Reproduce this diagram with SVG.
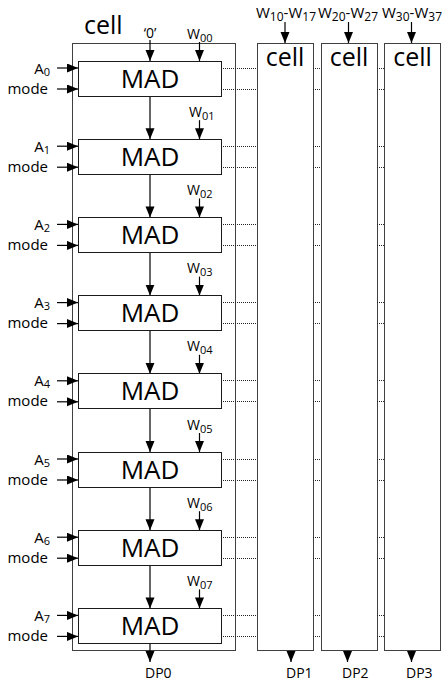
<svg xmlns="http://www.w3.org/2000/svg" width="442" height="683" viewBox="0 0 442 683">
<style>
text{font-family:"Open Sans","Liberation Sans",sans-serif;fill:#000}
.cell{fill:#fff;stroke:#404040;stroke-width:1}
.mad{fill:#fff;stroke:#1a1a1a;stroke-width:1}
.big{font-size:25px}
.mt{font-size:26px}
.lbl{font-size:15px}
.sm{font-size:14px}
.tw{font-size:15px}
.sub{font-size:11px}
.sub2{font-size:12px}
.arr{stroke:#000;stroke-width:1.2;fill:none;marker-end:url(#ah)}
.dot{stroke:#222;stroke-width:1;stroke-dasharray:1 1;fill:none}
</style>
<defs>
<marker id="ah" markerUnits="userSpaceOnUse" markerWidth="11" markerHeight="10" refX="11" refY="4.5" orient="auto">
<path d="M0,0 L11,4.5 L0,9 z" fill="#000"/>
</marker>
</defs>

<g id="cell0">
<rect class="cell" x="72.5" y="43.5" width="163" height="607"/>
<text class="big" x="84" y="34">cell</text>
</g>
<g id="cell1">
<rect class="cell" x="257.5" y="43.5" width="56" height="607"/>
<text class="big" x="285" y="66" text-anchor="middle">cell</text>
</g>
<g id="cell2">
<rect class="cell" x="321.5" y="43.5" width="56" height="607"/>
<text class="big" x="349" y="66" text-anchor="middle">cell</text>
</g>
<g id="cell3">
<rect class="cell" x="384.5" y="43.5" width="56" height="607"/>
<text class="big" x="412.5" y="66" text-anchor="middle">cell</text>
</g>

<g id="connectors">
<line class="arr" x1="150" y1="40" x2="150" y2="61"/>
<line class="arr" x1="199.5" y1="42" x2="199.5" y2="61"/>
<line class="arr" x1="285" y1="22" x2="285" y2="43"/>
<line class="arr" x1="348.5" y1="22" x2="348.5" y2="43"/>
<line class="arr" x1="411.5" y1="22" x2="411.5" y2="43"/>
<line class="arr" x1="150" y1="96" x2="150" y2="139.2"/>
<line class="arr" x1="150" y1="174.2" x2="150" y2="217.4"/>
<line class="arr" x1="150" y1="252.4" x2="150" y2="295.6"/>
<line class="arr" x1="150" y1="330.6" x2="150" y2="373.8"/>
<line class="arr" x1="150" y1="408.8" x2="150" y2="452"/>
<line class="arr" x1="150" y1="487" x2="150" y2="530.2"/>
<line class="arr" x1="150" y1="565.2" x2="150" y2="608.4"/>
<line class="arr" x1="199.5" y1="120.2" x2="199.5" y2="139.2"/>
<line class="arr" x1="199.5" y1="198.4" x2="199.5" y2="217.4"/>
<line class="arr" x1="199.5" y1="276.6" x2="199.5" y2="295.6"/>
<line class="arr" x1="199.5" y1="354.8" x2="199.5" y2="373.8"/>
<line class="arr" x1="199.5" y1="433" x2="199.5" y2="452"/>
<line class="arr" x1="199.5" y1="511.2" x2="199.5" y2="530.2"/>
<line class="arr" x1="199.5" y1="589.4" x2="199.5" y2="608.4"/>
<line class="arr" x1="57" y1="68" x2="78" y2="68"/>
<line class="arr" x1="57" y1="89" x2="78" y2="89"/>
<line class="arr" x1="57" y1="146.2" x2="78" y2="146.2"/>
<line class="arr" x1="57" y1="167.2" x2="78" y2="167.2"/>
<line class="arr" x1="57" y1="224.4" x2="78" y2="224.4"/>
<line class="arr" x1="57" y1="245.4" x2="78" y2="245.4"/>
<line class="arr" x1="57" y1="302.6" x2="78" y2="302.6"/>
<line class="arr" x1="57" y1="323.6" x2="78" y2="323.6"/>
<line class="arr" x1="57" y1="380.8" x2="78" y2="380.8"/>
<line class="arr" x1="57" y1="401.8" x2="78" y2="401.8"/>
<line class="arr" x1="57" y1="459" x2="78" y2="459"/>
<line class="arr" x1="57" y1="480" x2="78" y2="480"/>
<line class="arr" x1="57" y1="537.2" x2="78" y2="537.2"/>
<line class="arr" x1="57" y1="558.2" x2="78" y2="558.2"/>
<line class="arr" x1="57" y1="615.4" x2="78" y2="615.4"/>
<line class="arr" x1="57" y1="636.4" x2="78" y2="636.4"/>
<line class="arr" x1="150" y1="643.4" x2="150" y2="662"/>
<line class="arr" x1="291" y1="651" x2="291" y2="662"/>
<line class="arr" x1="347.5" y1="651" x2="347.5" y2="662"/>
<line class="arr" x1="411.5" y1="651" x2="411.5" y2="662"/>
<path class="dot" d="M221,68.5H257M313,68.5H321M377,68.5H384M221,89.5H257M313,89.5H321M377,89.5H384
M221,146.5H257M313,146.5H321M377,146.5H384M221,167.5H257M313,167.5H321M377,167.5H384
M221,224.5H257M313,224.5H321M377,224.5H384M221,245.5H257M313,245.5H321M377,245.5H384
M221,302.5H257M313,302.5H321M377,302.5H384M221,323.5H257M313,323.5H321M377,323.5H384
M221,380.5H257M313,380.5H321M377,380.5H384M221,401.5H257M313,401.5H321M377,401.5H384
M221,459.5H257M313,459.5H321M377,459.5H384M221,480.5H257M313,480.5H321M377,480.5H384
M221,537.5H257M313,537.5H321M377,537.5H384M221,558.5H257M313,558.5H321M377,558.5H384
M221,615.5H257M313,615.5H321M377,615.5H384M221,636.5H257M313,636.5H321M377,636.5H384"/>
</g>

<g id="mad0"><rect class="mad" x="78.5" y="61.5" width="143" height="35"/><text class="mt" x="150" y="88" text-anchor="middle">MAD</text></g>
<g id="mad1"><rect class="mad" x="78.5" y="139.5" width="143" height="35"/><text class="mt" x="150" y="166" text-anchor="middle">MAD</text></g>
<g id="mad2"><rect class="mad" x="78.5" y="217.5" width="143" height="35"/><text class="mt" x="150" y="244" text-anchor="middle">MAD</text></g>
<g id="mad3"><rect class="mad" x="78.5" y="295.5" width="143" height="35"/><text class="mt" x="150" y="322" text-anchor="middle">MAD</text></g>
<g id="mad4"><rect class="mad" x="78.5" y="373.5" width="143" height="35"/><text class="mt" x="150" y="400" text-anchor="middle">MAD</text></g>
<g id="mad5"><rect class="mad" x="78.5" y="452.5" width="143" height="35"/><text class="mt" x="150" y="479" text-anchor="middle">MAD</text></g>
<g id="mad6"><rect class="mad" x="78.5" y="530.5" width="143" height="35"/><text class="mt" x="150" y="557" text-anchor="middle">MAD</text></g>
<g id="mad7"><rect class="mad" x="78.5" y="608.5" width="143" height="35"/><text class="mt" x="150" y="635" text-anchor="middle">MAD</text></g>

<g id="labels">
<text class="sm" x="150" y="38" text-anchor="middle">‘0’</text>
<text class="sm" x="187" y="39">W<tspan class="sub" dy="3">00</tspan></text>
<text class="sm" x="189" y="117">W<tspan class="sub" dy="3">01</tspan></text>
<text class="sm" x="187" y="195">W<tspan class="sub" dy="3">02</tspan></text>
<text class="sm" x="187" y="273">W<tspan class="sub" dy="3">03</tspan></text>
<text class="sm" x="187" y="351">W<tspan class="sub" dy="3">04</tspan></text>
<text class="sm" x="187" y="430">W<tspan class="sub" dy="3">05</tspan></text>
<text class="sm" x="187" y="508">W<tspan class="sub" dy="3">06</tspan></text>
<text class="sm" x="187" y="586">W<tspan class="sub" dy="3">07</tspan></text>

<text class="tw" x="256" y="18">W<tspan class="sub2" dy="3">10</tspan><tspan dy="-3">-W</tspan><tspan class="sub2" dy="3">17</tspan></text>
<text class="tw" x="318" y="18">W<tspan class="sub2" dy="3">20</tspan><tspan dy="-3">-W</tspan><tspan class="sub2" dy="3">27</tspan></text>
<text class="tw" x="382" y="18">W<tspan class="sub2" dy="3">30</tspan><tspan dy="-3">-W</tspan><tspan class="sub2" dy="3">37</tspan></text>

<g text-anchor="end">
<text class="lbl" x="50" y="74">A<tspan class="sub" dy="2">0</tspan></text>
<text class="lbl" x="48" y="94">mode</text>
<text class="lbl" x="50" y="152">A<tspan class="sub" dy="2">1</tspan></text>
<text class="lbl" x="48" y="172">mode</text>
<text class="lbl" x="50" y="230">A<tspan class="sub" dy="2">2</tspan></text>
<text class="lbl" x="48" y="250">mode</text>
<text class="lbl" x="50" y="308">A<tspan class="sub" dy="2">3</tspan></text>
<text class="lbl" x="48" y="328">mode</text>
<text class="lbl" x="50" y="386">A<tspan class="sub" dy="2">4</tspan></text>
<text class="lbl" x="48" y="406">mode</text>
<text class="lbl" x="50" y="465">A<tspan class="sub" dy="2">5</tspan></text>
<text class="lbl" x="48" y="485">mode</text>
<text class="lbl" x="50" y="543">A<tspan class="sub" dy="2">6</tspan></text>
<text class="lbl" x="48" y="563">mode</text>
<text class="lbl" x="50" y="621">A<tspan class="sub" dy="2">7</tspan></text>
<text class="lbl" x="48" y="641">mode</text>
</g>

<text class="sm" x="145" y="678">DP0</text>
<text class="sm" x="286" y="678">DP1</text>
<text class="sm" x="342" y="678">DP2</text>
<text class="sm" x="406" y="678">DP3</text>
</g>
</svg>
